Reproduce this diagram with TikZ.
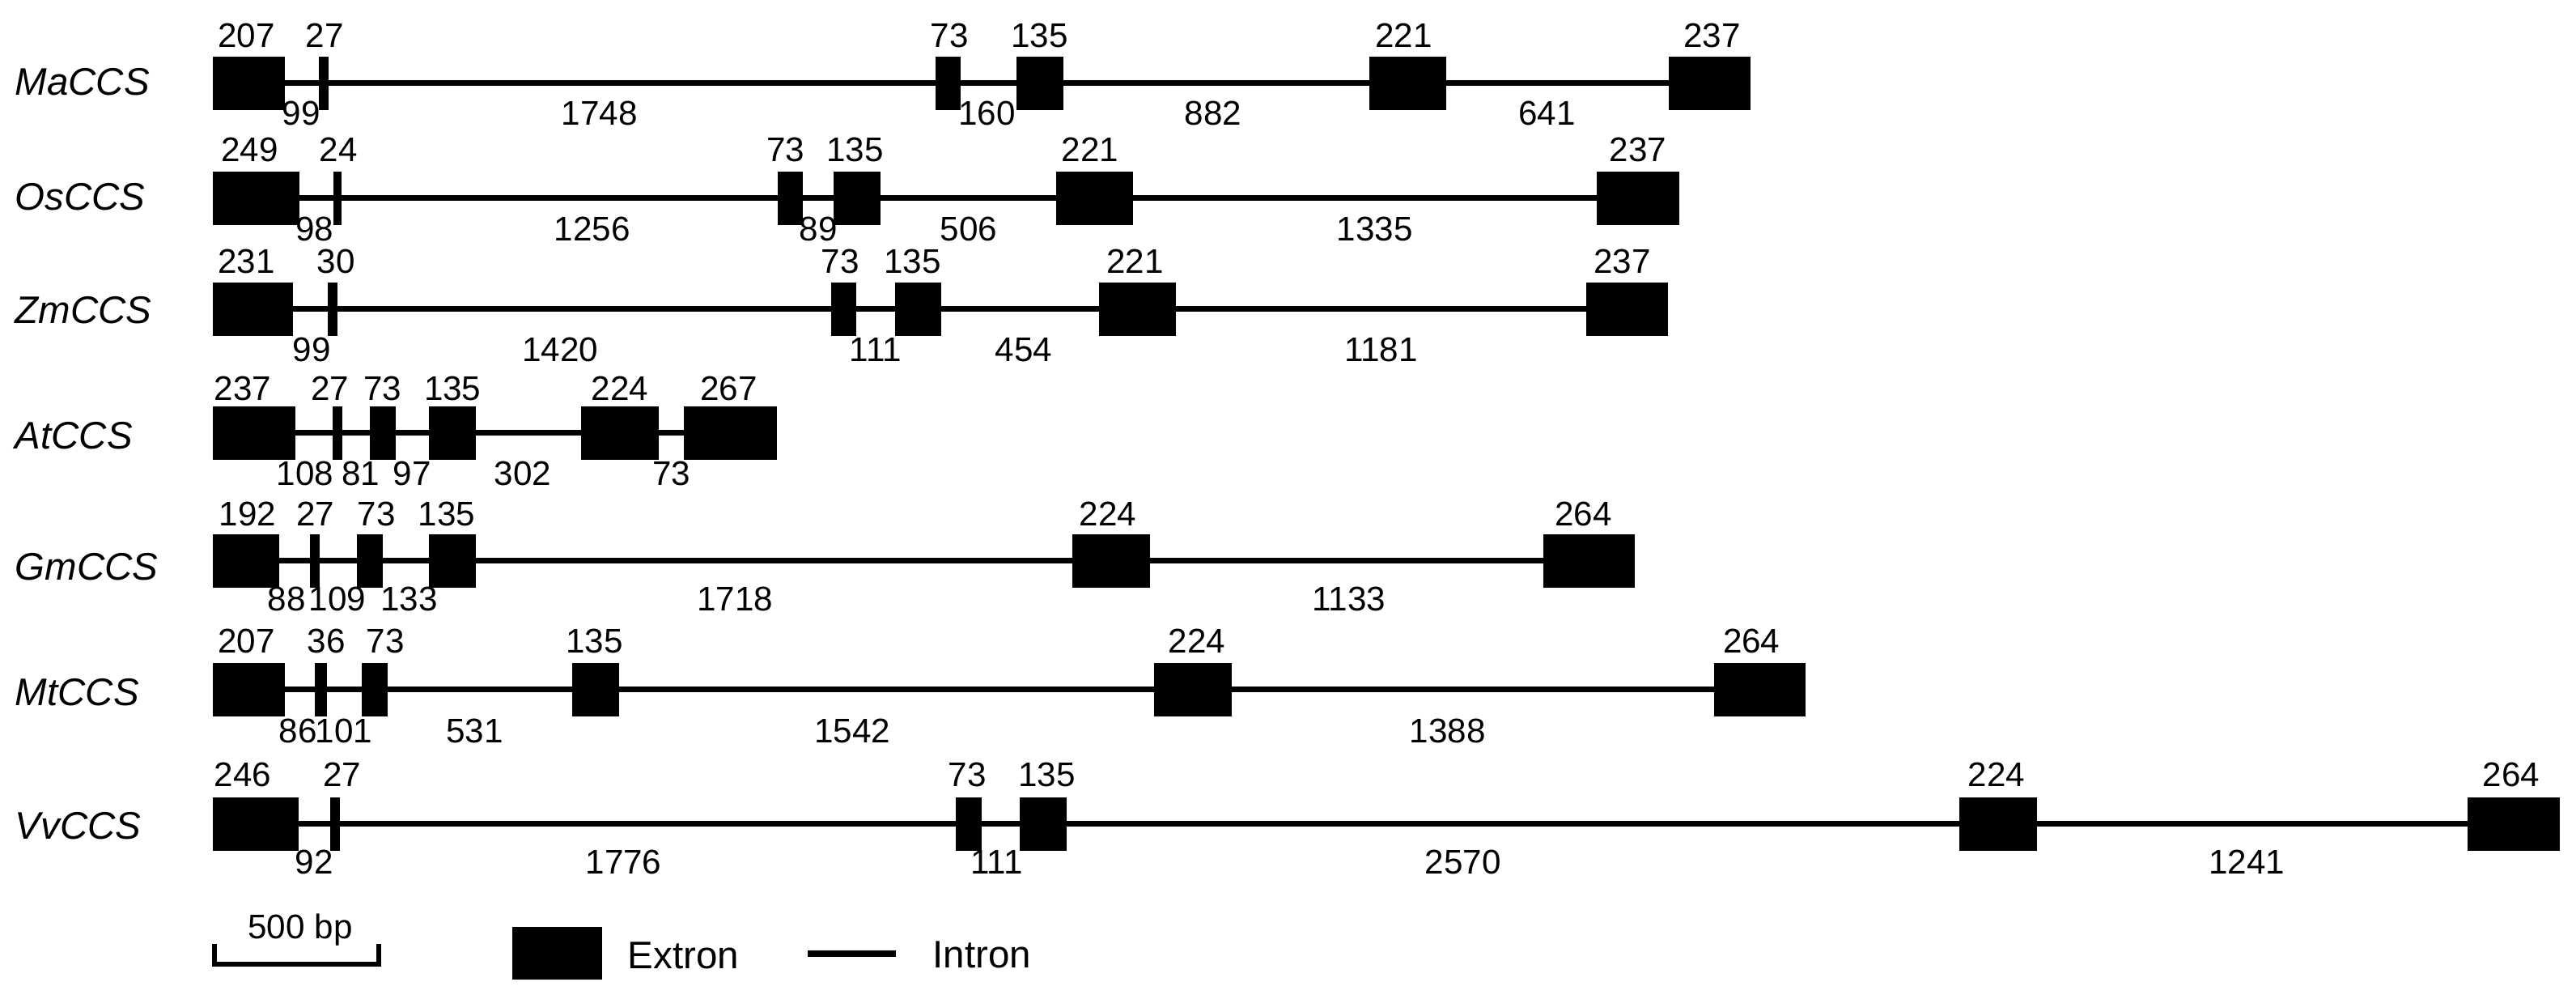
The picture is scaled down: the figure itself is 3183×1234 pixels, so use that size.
\documentclass[tikz,border=0pt]{standalone}
\usepackage{fontspec}
\setmainfont{Liberation Sans}
\tikzset{
  exon/.style={rectangle, fill=black, draw=none, inner sep=0pt, outer sep=0pt, minimum height=0.66cm},
  intron/.style={line width=0.07cm},
  num/.style={font=\fontsize{12}{14}\selectfont, inner sep=0pt, anchor=base},
  species/.style={font=\fontsize{13.5}{16}\selectfont\itshape, inner sep=0pt, anchor=base west},
  legtext/.style={font=\fontsize{13.5}{16}\selectfont, inner sep=0pt, anchor=base west},
  scalebar/.style={line width=0.055cm}
}
% #1 id, #2 name, #3 line y, #4 name baseline, #5 top label baseline, #6 bottom label baseline,
% #7 list of length/label-shift pairs (exon, intron, exon, ...)
\newcommand\drawgene[7]{%
  \gdef\curx{263}%
  \foreach \len/\dx [count=\i] in {#7} {%
    \pgfmathsetmacro\xa{\curx}%
    \pgfmathsetmacro\xb{\curx+\len*0.429}%
    \pgfmathsetmacro\xm{(\xa+\xb)/2}%
    \pgfmathsetmacro\xl{\xm+\dx}%
    \pgfmathsetmacro\w{(\xb-\xa)*0.01}%
    \ifodd\i
      \node[exon, minimum width=\w cm] (#1e\i) at (\xm,#3) {};
      \node[num] (#1t\i) at (\xl,#5) {\len};
    \else
      \node[num] (#1b\i) at (\xl,#6) {\len};
    \fi
    \xdef\curx{\xb}%
  }%
  \foreach \i [evaluate=\i as \j using int(\i+2)] in {1,3,5,7,9} {\draw[intron] (#1e\i.east) -- (#1e\j.west);}%
  \node[species] (#1name) at (18,#4) {#2};%
}
\begin{document}
\begin{tikzpicture}[x=0.01cm, y=-0.01cm]
\useasboundingbox (0,0) rectangle (3183,1234);

\drawgene{Ma}{MaCCS}{103}{118}{59}{155}{207/-3,99/-1,27/1,1748/-40,73/2,160/-2,135/0,882/-4,221/-5,641/-13,237/3}
\drawgene{Os}{OsCCS}{245}{260}{200}{298}{249/-8,98/-2,24/1,1256/40,73/-6,89/0,135/-3,506/0,221/-6,1335/12,237/0}
\drawgene{Zm}{ZmCCS}{382}{400}{338}{447}{231/-8,99/2,30/4,1420/-30,73/-4,111/0,135/-7,454/4,221/-3,1181/0,237/-6}
\drawgene{At}{AtCCS}{535}{555}{495}{600}{237/-14,108/-11,27/-9,81/6,73/0,97/0,135/0,302/-7,224/0,73/0,267/-2}
\drawgene{Gm}{GmCCS}{693}{717}{650}{755}{192/2,88/-10,27/1,109/-1,73/8,133/4,135/-7,1718/-48,224/-4,1133/3,264/-7}
\drawgene{Mt}{MtCCS}{852}{872}{807}{918}{207/-3,86/-2,36/7,101/-1,73/13,531/-6,135/-1,1542/-42,224/5,1388/-31,264/-10}
\drawgene{Vv}{VvCCS}{1018}{1037}{972}{1080}{246/-16,92/0,27/9,1776/-30,73/-2,111/-5,135/4,2570/-62,224/-2,1241/-7,264/-3}

% legend
\coordinate (sbA) at (265,1166);
\coordinate (sbB) at (265,1191);
\coordinate (sbC) at (468,1191);
\coordinate (sbD) at (468,1166);
\draw[scalebar] (sbA) -- (sbB) -- (sbC) -- (sbD);
\node[num] (sblabel) at (371,1160) {500 bp};
\node[exon, minimum width=1.11cm, minimum height=0.65cm] (legE) at (688.5,1177.5) {};
\node[legtext] (legEt) at (775,1197) {Extron};
\coordinate (legIa) at (998,1178);
\coordinate (legIb) at (1107,1178);
\draw[intron] (legIa) -- (legIb);
\node[legtext] (legIt) at (1152,1196) {Intron};
\end{tikzpicture}
\end{document}
